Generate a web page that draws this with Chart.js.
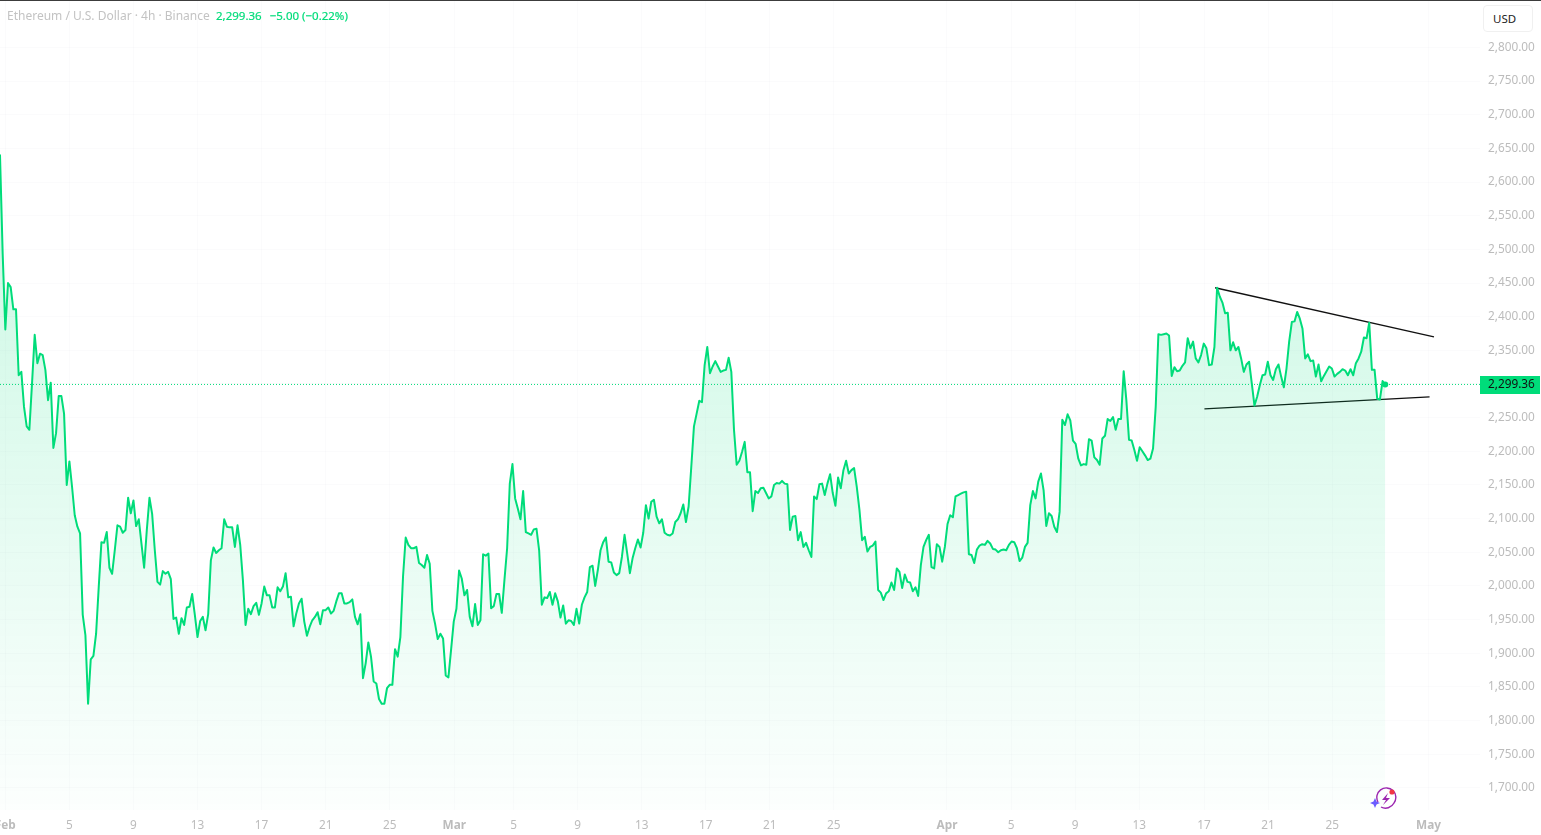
<!DOCTYPE html>
<html>
<head>
<meta charset="utf-8">
<title>ETHUSD 4h</title>
<script src="https://cdn.jsdelivr.net/npm/chart.js@4"></script>
<style>
    html, body { margin: 0; padding: 0; background: #fff; overflow: hidden; }
    #wrap { position: relative; width: 1541px; height: 835px; }
    #topline { position: absolute; left: 0; top: 0; width: 1541px; height: 1px; background: #3c3c3c; }
    #legend { position: absolute; left: 7px; top: 7px; font: 12px "Noto Sans", sans-serif; color: #c3c3c3; white-space: pre; }
    #value { position: absolute; left: 216px; top: 8px; font: 11.5px "Noto Sans", sans-serif; color: #00dc7a; white-space: pre; -webkit-text-stroke: 0.2px #00dc7a; }
    #value b { font-weight: 400; margin-left: 8px; }
    #usd { position: absolute; left: 1483px; top: 5px; width: 39px; height: 25px; padding-left: 9px; border: 1px solid #f0f0f0; border-radius: 4px; background: #fff; font: 11.5px/26px "Noto Sans", sans-serif; color: #222; }
    #logo { position: absolute; left: 1368px; top: 787px; }
</style>
</head>
<body>
<div id="wrap">
    <canvas id="chart" width="1541" height="835"></canvas>
    <div id="topline"></div>
    <div id="legend">Ethereum / U.S. Dollar · 4h · Binance</div>
    <div id="value">2,299.36<b>−5.00 (−0.22%)</b></div>
    <div id="usd">USD</div>
    <svg id="logo" width="30" height="24" viewBox="0 0 30 24">
        <path d="M10 15 A9.5 9.5 0 1 1 26 16 A9.5 9.5 0 0 1 13 20" fill="none" stroke="#9c27b0" stroke-width="1.4"/>
        <path d="M20 6 L14 13 L18 13 L15 18 L22 11 L18 11 Z" fill="#9c27b0"/>
        <path d="M7 11 L8.5 14.5 L12 16 L8.5 17.5 L7 21 L5.5 17.5 L2 16 L5.5 14.5 Z" fill="#6a5cff"/>
        <circle cx="24" cy="5" r="2.6" fill="#f23645"/>
    </svg>
</div>
<script>
// 4h closes, one per bar
const closes = [
    2640,2494,2381,2450,2444,2411,2411,2313,2318,2266,2237,2232,2301,2373,2331,2345,2343,2321,2276,2302,
    2205,2227,2282,2282,2256,2150,2185,2147,2105,2088,
    2078,1957,1927,1825,1891,1896,1929,1999,2065,2064,
    2080,2027,2018,2053,2090,2088,2079,2083,2131,2108,
    2127,2089,2099,2063,2027,2083,2131,2107,2053,2006,
    2002,2022,2018,2021,2010,1951,1953,1929,1952,1942,
    1968,1969,1988,1957,1924,1948,1954,1934,1958,2038,
    2057,2049,2053,2056,2099,2088,2087,2087,2058,2090,
    2061,2009,1942,1966,1958,1970,1975,1957,1974,1999,
    1986,1986,1968,1968,1998,1992,1999,2019,1983,1984,
    1940,1959,1974,1981,1947,1926,1939,1949,1954,1961,
    1943,1964,1964,1968,1959,1963,1977,1989,1989,1974,
    1974,1976,1980,1954,1943,1958,1863,1885,1916,1895,
    1858,1855,1832,1825,1825,1848,1853,1853,1906,1895,
    1924,2014,2072,2061,2056,2056,2058,2034,2031,2027,
    2046,2033,1963,1944,1921,1929,1922,1867,1864,1905,
    1947,1966,2023,2011,1986,1994,1954,1940,1973,1942,
    1949,2047,2045,2048,1967,1970,1988,1988,1960,2009,
    2056,2152,2181,2130,2115,2099,2141,2080,2078,2076,
    2084,2085,2053,1972,1983,1982,1991,1972,1989,1977,
    1953,1971,1944,1949,1948,1942,1966,1944,1972,1983,
    1991,2028,2030,2000,2024,2053,2065,2072,2036,2035,
    2020,2016,2019,2043,2076,2048,2019,2041,2056,2069,
    2057,2079,2120,2100,2125,2128,2103,2093,2099,2079,
    2076,2075,2078,2095,2099,2108,2121,2095,2118,2177,
    2237,2256,2275,2273,2328,2355,2316,2326,2334,2326,
    2318,2320,2321,2339,2318,2232,2180,2186,2199,2214,
    2169,2169,2111,2141,2138,2145,2146,2138,2130,2133,
    2150,2153,2152,2156,2152,2151,2083,2103,2104,2068,
    2080,2058,2064,2053,2043,2133,2129,2151,2152,2135,
    2152,2166,2138,2119,2161,2145,2172,2186,2167,2172,
    2175,2147,2113,2068,2073,2051,2058,2060,2066,1994,
    1990,1979,1989,1992,2005,1994,2026,2021,1997,2017,
    2006,2005,1992,1998,1985,2031,2058,2068,2076,2028,
    2026,2062,2058,2036,2058,2092,2105,2102,2133,2135,
    2137,2139,2140,2047,2046,2034,2054,2060,2062,2061,
    2067,2063,2055,2054,2050,2053,2054,2053,2061,2066,
    2065,2056,2037,2042,2058,2064,2120,2141,2130,2155,
    2167,2142,2089,2108,2104,2088,2080,2110,2247,2239,
    2255,2246,2216,2211,2189,2179,2181,2180,2218,2216,
    2191,2187,2180,2219,2223,2248,2245,2251,2232,2248,
    2248,2319,2276,2217,2216,2202,2186,2206,2200,2194,
    2187,2189,2204,2266,2374,2373,2374,2375,2372,2312,
    2325,2319,2320,2327,2332,2368,2353,2363,2338,2332,
    2343,2360,2353,2328,2329,2355,2443,2430,2421,2405,
    2406,2350,2362,2350,2355,2338,2318,2329,2333,2301,
    2268,2281,2298,2313,2314,2333,2313,2306,2322,2329,
    2311,2295,2323,2363,2392,2393,2407,2397,2382,2338,
    2344,2334,2335,2311,2329,2304,2312,2319,2326,2323,
    2311,2315,2318,2322,2320,2313,2322,2313,2331,2338,
    2348,2369,2368,2391,2321,2321,2278,2277,2304.36,2299.36
];

// date labels and the bar they sit on
const dateLabels = ['Feb','5','9','13','17','21','25','Mar','5','9','13','17','21','25','Apr','5','9','13','17','21','25','May'];
const dateBars = [2,26,50,74,98,122,146,170.2,192.4,216.4,240.4,264.4,288.4,312.4,354.8,378.8,402.8,426.8,451.1,475.1,499.1,535.2];

const priceTicks = [1700,1750,1800,1850,1900,1950,2000,2050,2100,2150,2200,2250,2300,2350,2400,2450,2500,2550,2600,2650,2700,2750,2800];
const lastPrice = 2299.36;

// drawn trend lines: [bar, price]
const upperTrend = [[455.25, 2443], [537.25, 2370]];
const lowerTrend = [[451.25, 2263], [535.6, 2281]];

const GREEN = '#00dc7a';
const xMin = 0, xMax = 554.5;
const yMin = 1667.1, yMax = 2870.5;

const toPoints = arr => arr.map(p => ({ x: p[0], y: p[1] }));
const money = v => v.toLocaleString('en-US', { minimumFractionDigits: 2, maximumFractionDigits: 2 });

// last price box on the axis
const priceTag = {
    id: 'priceTag',
    afterDraw(chart) {
        const c = chart.ctx;
        const y = chart.scales.y.getPixelForValue(lastPrice);
        const left = chart.chartArea.right;
        c.save();
        c.fillStyle = GREEN;
        c.fillRect(left, Math.round(y) - 8, 60, 18);
        c.fillStyle = '#111';
        c.font = '11.8px "Noto Sans"';
        c.textAlign = 'left';
        c.textBaseline = 'middle';
        c.fillText(money(lastPrice), left + 8, y + 0.5);
        c.restore();
    }
};

new Chart(document.getElementById('chart'), {
    type: 'line',
    data: {
        datasets: [
            {
                data: closes.map((v, i) => ({ x: i, y: v })),
                borderColor: GREEN,
                borderWidth: 2,
                borderJoinStyle: 'round',
                borderCapStyle: 'round',
                pointRadius: 0,
                tension: 0,
                fill: 'start',
                backgroundColor: ctx => {
                    const area = ctx.chart.chartArea;
                    if (!area) return 'transparent';
                    const g = ctx.chart.ctx.createLinearGradient(0, area.top, 0, area.bottom);
                    g.addColorStop(0, 'rgba(0,220,122,0.26)');
                    g.addColorStop(1, 'rgba(0,220,122,0.01)');
                    return g;
                }
            },
            {
                data: [{ x: xMin, y: lastPrice }, { x: xMax, y: lastPrice }],
                borderColor: GREEN,
                borderWidth: 1,
                borderDash: [1, 2],
                pointRadius: 0
            },
            {
                data: toPoints(upperTrend),
                borderColor: '#111',
                borderWidth: 1.3,
                pointRadius: 0
            },
            {
                data: toPoints(lowerTrend),
                borderColor: '#111',
                borderWidth: 1.3,
                pointRadius: 0
            },
            {
                data: [{ x: closes.length - 1, y: lastPrice }],
                pointRadius: 3,
                pointBackgroundColor: GREEN,
                pointBorderWidth: 0
            }
        ]
    },
    options: {
        responsive: false,
        animation: false,
        layout: { padding: 0, autoPadding: false },
        plugins: { legend: { display: false }, tooltip: { enabled: false } },
        scales: {
            x: {
                type: 'linear',
                min: xMin,
                max: xMax,
                border: { display: false },
                grid: { color: 'rgba(40,60,100,0.02)', drawTicks: false },
                afterBuildTicks: s => { s.ticks = dateBars.map(v => ({ value: v })); },
                afterFit: s => { s.height = 25; s.paddingLeft = 0; s.paddingRight = 0; },
                ticks: {
                    autoSkip: false,
                    maxRotation: 0,
                    padding: 9,
                    color: '#bcbcbc',
                    font: ctx => ({ family: 'Noto Sans', size: 11.8, weight: /[a-z]/i.test(dateLabels[dateBars.indexOf(ctx.tick && ctx.tick.value)] || '') ? 'bold' : 'normal' }),
                    callback: v => dateLabels[dateBars.indexOf(v)]
                }
            },
            y: {
                position: 'right',
                min: yMin,
                max: yMax,
                border: { display: false },
                grid: { color: 'rgba(40,60,100,0.02)', drawTicks: false },
                afterBuildTicks: s => { s.ticks = priceTicks.map(v => ({ value: v })); },
                afterFit: s => { s.width = 61; s.paddingTop = 0; s.paddingBottom = 0; },
                ticks: {
                    padding: 8,
                    color: '#bcbcbc',
                    font: { family: 'Noto Sans', size: 11.8 },
                    callback: v => money(v)
                }
            }
        }
    },
    plugins: [priceTag]
});
</script>
</body>
</html>
